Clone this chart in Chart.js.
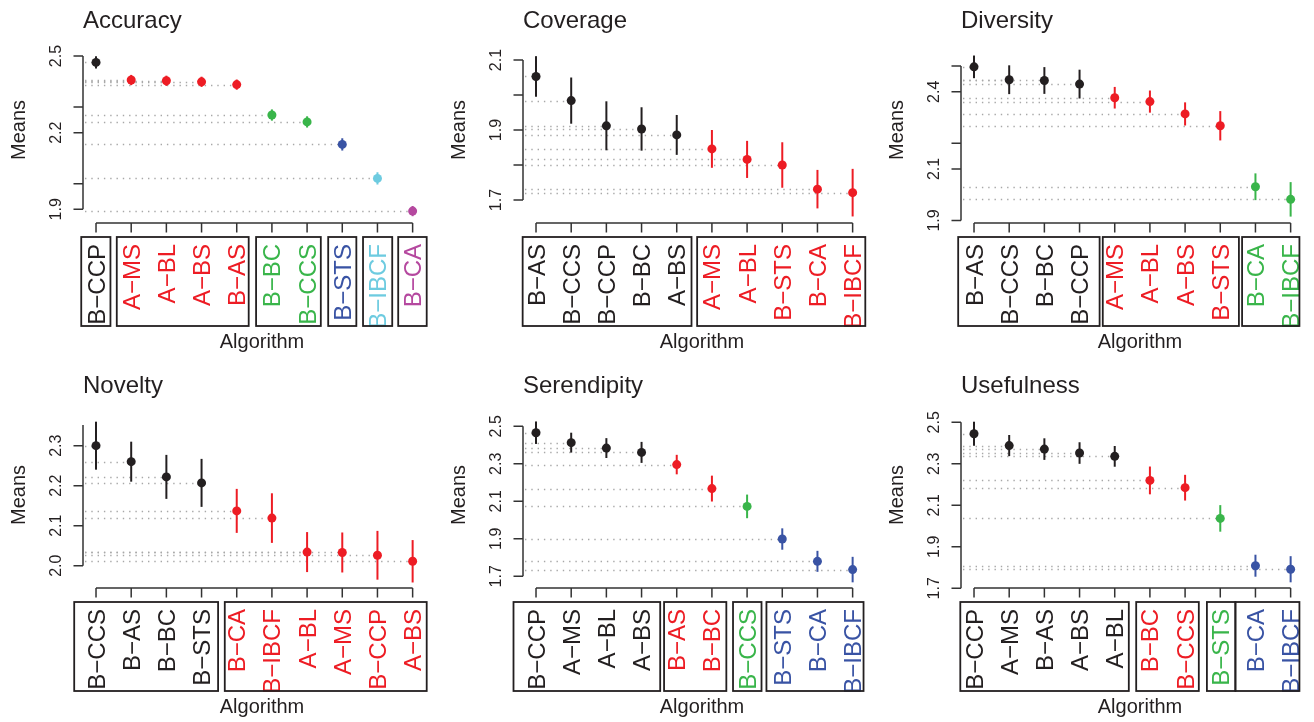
<!DOCTYPE html>
<html>
<head>
<meta charset="utf-8">
<script src="https://cdn.jsdelivr.net/npm/chart.js@4.4.0/dist/chart.umd.min.js"></script>
<style>
  html, body { margin: 0; padding: 0; background: #fff; width: 1314px; height: 722px; overflow: hidden; }
  canvas { position: absolute; }
</style>
</head>
<body>
<canvas id="p0" width="438" height="361" style="left:0px;top:0px"></canvas>
<canvas id="p1" width="438" height="361" style="left:440px;top:0px"></canvas>
<canvas id="p2" width="438" height="361" style="left:878px;top:0px"></canvas>
<canvas id="p3" width="438" height="361" style="left:0px;top:365px"></canvas>
<canvas id="p4" width="438" height="361" style="left:440px;top:365px"></canvas>
<canvas id="p5" width="438" height="361" style="left:878px;top:365px"></canvas>
<script>
// ---- data ----
const accuracyAlgs = ['B−CCP', 'A−MS', 'A−BL', 'A−BS', 'B−AS', 'B−BC', 'B−CCS', 'B−STS', 'B−IBCF', 'B−CA'];
const accuracyMeans = [2.475, 2.406, 2.403, 2.399, 2.388, 2.269, 2.242, 2.154, 2.021, 1.893];
const accuracyErr = [0.024, 0.020, 0.020, 0.020, 0.020, 0.022, 0.022, 0.024, 0.024, 0.020];
const accuracyGroups = [1, 4, 2, 1, 1, 1];
const accuracyTicks = [1.9, 2.0, 2.2, 2.3, 2.5];
const accuracyTickLabels = [1.9, 2.2, 2.5];

const coverageAlgs = ['B−AS', 'B−CCS', 'B−CCP', 'B−BC', 'A−BS', 'A−MS', 'A−BL', 'B−STS', 'B−CA', 'B−IBCF'];
const coverageMeans = [2.053, 1.984, 1.912, 1.903, 1.886, 1.846, 1.816, 1.800, 1.731, 1.721];
const coverageErr = [0.058, 0.066, 0.070, 0.062, 0.057, 0.054, 0.053, 0.065, 0.055, 0.068];
const coverageGroups = [5, 5];
const coverageTicks = [1.7, 1.8, 1.9, 2.0, 2.1];
const coverageTickLabels = [1.7, 1.9, 2.1];

const diversityAlgs = ['B−AS', 'B−CCS', 'B−BC', 'B−CCP', 'A−MS', 'A−BL', 'A−BS', 'B−STS', 'B−CA', 'B−IBCF'];
const diversityMeans = [2.497, 2.447, 2.444, 2.430, 2.377, 2.362, 2.314, 2.268, 2.031, 1.982];
const diversityErr = [0.044, 0.056, 0.052, 0.056, 0.042, 0.043, 0.045, 0.057, 0.052, 0.067];
const diversityGroups = [4, 4, 2];
const diversityTicks = [1.9, 2.1, 2.2, 2.4, 2.5];
const diversityTickLabels = [1.9, 2.1, 2.4];

const noveltyAlgs = ['B−CCS', 'B−AS', 'B−BC', 'B−STS', 'B−CA', 'B−IBCF', 'A−BL', 'A−MS', 'B−CCP', 'A−BS'];
const noveltyMeans = [2.300, 2.260, 2.222, 2.207, 2.137, 2.119, 2.034, 2.033, 2.026, 2.011];
const noveltyErr = [0.060, 0.050, 0.055, 0.060, 0.055, 0.062, 0.050, 0.050, 0.061, 0.053];
const noveltyGroups = [4, 6];
const noveltyTicks = [2.0, 2.1, 2.2, 2.3];
const noveltyTickLabels = [2.0, 2.1, 2.2, 2.3];

const serendipityAlgs = ['B−CCP', 'A−MS', 'A−BL', 'A−BS', 'B−AS', 'B−BC', 'B−CCS', 'B−STS', 'B−CA', 'B−IBCF'];
const serendipityMeans = [2.466, 2.413, 2.384, 2.361, 2.296, 2.168, 2.073, 1.899, 1.780, 1.736];
const serendipityErr = [0.060, 0.053, 0.053, 0.056, 0.052, 0.069, 0.063, 0.057, 0.056, 0.068];
const serendipityGroups = [4, 2, 1, 3];
const serendipityTicks = [1.7, 1.9, 2.1, 2.3, 2.5];
const serendipityTickLabels = [1.7, 1.9, 2.1, 2.3, 2.5];

const usefulnessAlgs = ['B−CCP', 'A−MS', 'B−AS', 'A−BS', 'A−BL', 'B−BC', 'B−CCS', 'B−STS', 'B−CA', 'B−IBCF'];
const usefulnessMeans = [2.445, 2.388, 2.371, 2.352, 2.336, 2.220, 2.185, 2.037, 1.809, 1.792];
const usefulnessErr = [0.058, 0.051, 0.052, 0.052, 0.050, 0.067, 0.062, 0.064, 0.053, 0.063];
const usefulnessGroups = [5, 2, 1, 2];
const usefulnessTicks = [1.7, 1.9, 2.1, 2.3, 2.5];
const usefulnessTickLabels = [1.7, 1.9, 2.1, 2.3, 2.5];

// ---- styling ----
const FONT = '"Liberation Sans", Arial, Helvetica, sans-serif';
const INK = '#231f20';
const COL = { black: '#231f20', red: '#ed1c24', green: '#39b54a', blue: '#3953a4', cyan: '#6dcbe0', magenta: '#b5489f' };

const panels = [
  { id: 'p0', title: 'Accuracy', algs: accuracyAlgs, means: accuracyMeans, err: accuracyErr, groups: accuracyGroups,
    colors: ['black', 'red', 'green', 'blue', 'cyan', 'magenta'], ticks: accuracyTicks, tickLabels: accuracyTickLabels,
    ymin: 1.8464, ymax: 2.5235,
    boxes: [[-0.42, 0.41], [0.59, 4.34], [4.55, 6.39], [6.6, 7.4], [7.59, 8.42], [8.59, 9.4]] },
  { id: 'p1', title: 'Coverage', algs: coverageAlgs, means: coverageMeans, err: coverageErr, groups: coverageGroups,
    colors: ['black', 'red'], ticks: coverageTicks, tickLabels: coverageTickLabels,
    ymin: 1.6343, ymax: 2.1286,
    boxes: [[-0.38, 4.42], [4.58, 9.36]] },
  { id: 'p2', title: 'Diversity', algs: diversityAlgs, means: diversityMeans, err: diversityErr, groups: diversityGroups,
    colors: ['black', 'red', 'green'], ticks: diversityTicks, tickLabels: diversityTickLabels,
    ymin: 1.8901, ymax: 2.5625,
    boxes: [[-0.45, 3.57], [3.66, 7.53], [7.62, 9.25]] },
  { id: 'p3', title: 'Novelty', algs: noveltyAlgs, means: noveltyMeans, err: noveltyErr, groups: noveltyGroups,
    colors: ['black', 'red'], ticks: noveltyTicks, tickLabels: noveltyTickLabels, axisTop: 2.352,
    ymin: 1.9442, ymax: 2.3767,
    boxes: [[-0.62, 3.47], [3.66, 9.4]] },
  { id: 'p4', title: 'Serendipity', algs: serendipityAlgs, means: serendipityMeans, err: serendipityErr, groups: serendipityGroups,
    colors: ['black', 'red', 'green', 'blue'], ticks: serendipityTicks, tickLabels: serendipityTickLabels,
    ymin: 1.6378, ymax: 2.5604,
    boxes: [[-0.64, 3.53], [3.64, 5.41], [5.6, 6.41], [6.55, 9.31]] },
  { id: 'p5', title: 'Usefulness', algs: usefulnessAlgs, means: usefulnessMeans, err: usefulnessErr, groups: usefulnessGroups,
    colors: ['black', 'red', 'green', 'blue'], ticks: usefulnessTicks, tickLabels: usefulnessTickLabels,
    ymin: 1.7016, ymax: 2.5353,
    boxes: [[-0.39, 4.40], [4.61, 6.39], [6.62, 7.43], [7.43, 9.25]] }
];

// colour of each algorithm from its group
function colorsFor(p) {
  const out = [];
  p.groups.forEach((n, g) => { for (let k = 0; k < n; k++) out.push(COL[p.colors[g]]); });
  return out;
}

function rPlot(p, cols) {
  return {
    id: 'rPlot',
    beforeDatasetsDraw(chart) {
      const { ctx, chartArea } = chart;
      const xs = chart.scales.x, ys = chart.scales.y;
      ctx.save();
      // dotted reference lines from axis to each mean
      ctx.strokeStyle = '#a8a8a8';
      ctx.lineWidth = 1.3;
      ctx.setLineDash([1.4, 4.9]);
      p.means.forEach((m, i) => {
        const y = Math.round(ys.getPixelForValue(m)) + 0.5;
        ctx.beginPath();
        ctx.moveTo(chartArea.left + 2, y);
        ctx.lineTo(xs.getPixelForValue(i), y);
        ctx.stroke();
      });
      // error bars
      ctx.setLineDash([]);
      ctx.lineWidth = 2;
      p.means.forEach((m, i) => {
        const x = xs.getPixelForValue(i);
        ctx.strokeStyle = cols[i];
        ctx.beginPath();
        ctx.moveTo(x, ys.getPixelForValue(m - p.err[i]));
        ctx.lineTo(x, ys.getPixelForValue(m + p.err[i]));
        ctx.stroke();
      });
      ctx.restore();
    },
    afterDraw(chart) {
      const { ctx, chartArea } = chart;
      const xs = chart.scales.x, ys = chart.scales.y;
      ctx.save();
      ctx.strokeStyle = '#333';
      ctx.lineWidth = 1.5;
      ctx.fillStyle = INK;

      // y axis
      const ax = chartArea.left;
      const top = p.axisTop !== undefined ? p.axisTop : Math.max(...p.ticks);
      ctx.beginPath();
      ctx.moveTo(ax, ys.getPixelForValue(top));
      ctx.lineTo(ax, ys.getPixelForValue(Math.min(...p.ticks)));
      p.ticks.forEach(t => {
        const y = ys.getPixelForValue(t);
        ctx.moveTo(ax, y);
        ctx.lineTo(ax - 9.5, y);
      });
      ctx.stroke();
      ctx.font = '16px ' + FONT;
      ctx.textAlign = 'center';
      ctx.textBaseline = 'alphabetic';
      p.tickLabels.forEach(t => {
        ctx.save();
        ctx.translate(61, ys.getPixelForValue(t));
        ctx.rotate(-Math.PI / 2);
        ctx.fillText(t.toFixed(1), 0, 0);
        ctx.restore();
      });
      ctx.font = '20px ' + FONT;
      ctx.save();
      ctx.translate(24.7, 130);
      ctx.rotate(-Math.PI / 2);
      ctx.fillText('Means', 0, 0);
      ctx.restore();

      // x axis
      const by = chartArea.bottom;
      ctx.beginPath();
      ctx.moveTo(xs.getPixelForValue(0), by);
      ctx.lineTo(xs.getPixelForValue(p.algs.length - 1), by);
      p.algs.forEach((a, i) => {
        const x = xs.getPixelForValue(i);
        ctx.moveTo(x, by);
        ctx.lineTo(x, by + 9.5);
      });
      ctx.stroke();

      // rotated category labels
      ctx.font = '24px ' + FONT;
      ctx.textAlign = 'right';
      p.algs.forEach((a, i) => {
        ctx.save();
        ctx.translate(xs.getPixelForValue(i) + 8.5, by + 21);
        ctx.rotate(-Math.PI / 2);
        ctx.fillStyle = cols[i];
        ctx.fillText(a, 0, 0);
        ctx.restore();
      });

      // group boxes
      ctx.strokeStyle = INK;
      ctx.lineWidth = 1.8;
      p.boxes.forEach(b => {
        const x0 = xs.getPixelForValue(b[0]), x1 = xs.getPixelForValue(b[1]);
        ctx.strokeRect(x0, by + 14, x1 - x0, 89);
      });

      ctx.fillStyle = INK;
      ctx.font = '20px ' + FONT;
      ctx.textAlign = 'center';
      ctx.fillText('Algorithm', 262, 347.5);

      ctx.font = '24px ' + FONT;
      ctx.textAlign = 'left';
      ctx.fillText(p.title, 83, 27.5);
      ctx.restore();
    }
  };
}

panels.forEach(p => {
  const cols = colorsFor(p);
  new Chart(document.getElementById(p.id).getContext('2d'), {
    type: 'scatter',
    data: {
      datasets: [{
        data: p.means.map((m, i) => ({ x: i, y: m })),
        pointRadius: 4.5,
        pointHoverRadius: 4.5,
        pointBackgroundColor: cols,
        pointBorderWidth: 0,
        borderWidth: 0
      }]
    },
    options: {
      responsive: false,
      animation: false,
      events: [],
      layout: { padding: { left: 83, right: 12, top: 50, bottom: 138 } },
      plugins: { legend: { display: false }, tooltip: { enabled: false } },
      scales: {
        x: { type: 'linear', display: false, min: -0.37, max: 9.38 },
        y: { type: 'linear', display: false, min: p.ymin, max: p.ymax }
      }
    },
    plugins: [rPlot(p, cols)]
  });
});
</script>
</body>
</html>
